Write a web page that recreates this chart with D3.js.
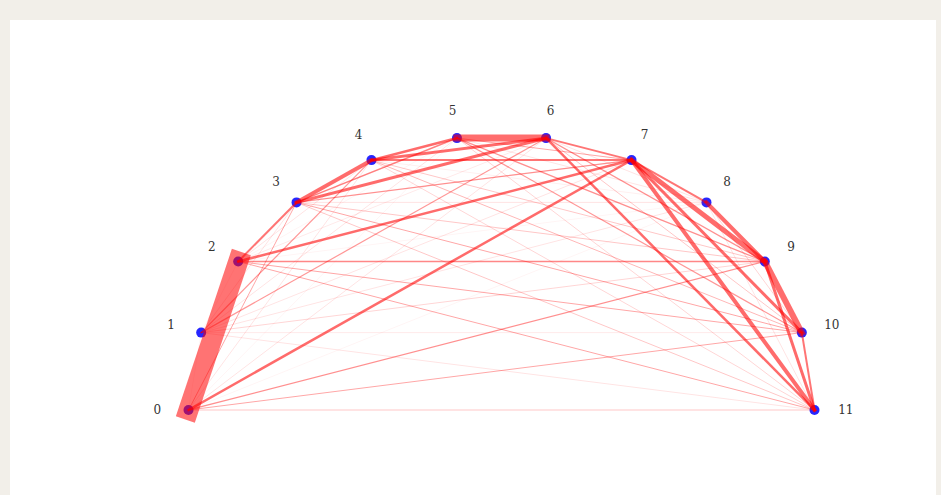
<!DOCTYPE html>
<html>
<head>
<meta charset="utf-8">
<script src="https://cdn.jsdelivr.net/npm/d3@7"></script>
<style>
  html, body { margin: 0; padding: 0; }
  body { width: 941px; height: 495px; background: #f2efe9; overflow: hidden; position: relative; }
  #panel { position: absolute; left: 10px; top: 20px; width: 926px; height: 475px; background: #fff; }
  svg { position: absolute; left: 0; top: 0; }
</style>
</head>
<body>
<div id="panel"></div>
<svg id="chart"></svg>
<script>
// node labels, in order round the half circle
const nodeLabels = ['0', '1', '2', '3', '4', '5', '6', '7', '8', '9', '10', '11'];

// edge list: source, target, weight
const edgeSource = [0, 0, 0, 0, 0, 0, 0, 0, 0, 0, 0,
                    1, 1, 1, 1, 1, 1, 1, 1, 1, 1,
                    2, 2, 2, 2, 2, 2, 2, 2, 2,
                    3, 3, 3, 3, 3, 3, 3, 3,
                    4, 4, 4, 4, 4, 4, 4,
                    5, 5, 5, 5, 5, 5,
                    6, 6, 6, 6, 6,
                    7, 7, 7, 7,
                    8, 8, 8,
                    9, 9,
                    10];
const edgeTarget = [1, 2, 3, 4, 5, 6, 7, 8, 9, 10, 11,
                    2, 3, 4, 5, 6, 7, 8, 9, 10, 11,
                    3, 4, 5, 6, 7, 8, 9, 10, 11,
                    4, 5, 6, 7, 8, 9, 10, 11,
                    5, 6, 7, 8, 9, 10, 11,
                    6, 7, 8, 9, 10, 11,
                    7, 8, 9, 10, 11,
                    8, 9, 10, 11,
                    9, 10, 11,
                    10, 11,
                    11];
const edgeWeight = [0.3, 20, 1, 0.6, 0.3, 0.6, 2.5, 0.3, 1.3, 1, 0.8,
                    0.3, 0.6, 1.2, 0.6, 1.2, 0.6, 0.6, 0.7, 0.5, 0.6,
                    2, 0.6, 0.3, 0.5, 2.5, 0.3, 1.4, 1, 1,
                    4, 1.5, 3, 1.3, 0.6, 0.8, 1, 0.8,
                    2.5, 3, 2, 0.4, 0.8, 0.9, 0.7,
                    7, 1, 0.6, 1.3, 1.2, 0.7,
                    2, 0.6, 1.3, 0.8, 2.5,
                    2, 5, 3, 4,
                    4, 0.7, 0.6,
                    6, 3,
                    2];

const width = 941, height = 495;

const svg = d3.select('#chart')
    .attr('width', width)
    .attr('height', height);

// unit half circle -> pixels (the picture is squashed: x and y radius differ)
const xScale = d3.scaleLinear().domain([-1, 1]).range([188.5, 814.5]);
const yScale = d3.scaleLinear().domain([0, 1]).range([410, 135.3]);
const angle = d3.scaleLinear().domain([0, nodeLabels.length - 1]).range([Math.PI, 0]);

const nodes = nodeLabels.map((label, i) => ({
    label: label,
    ux: Math.cos(angle(i)),
    uy: Math.sin(angle(i))
}));

const edges = edgeWeight.map((w, k) => ({
    s: nodes[edgeSource[k]],
    t: nodes[edgeTarget[k]],
    w: w
}));

const lineWidth = d3.scaleLinear().domain([0, 1, 20]).range([0.8, 1, 20]);
const lineAlpha = d3.scaleLinear()
    .domain([0.3, 0.6, 1, 1.5, 2.5, 20])
    .range([0.05, 0.12, 0.35, 0.5, 0.58, 0.55])
    .clamp(true);

// nodes first, the edges are laid over them
svg.append('g')
    .selectAll('circle')
    .data(nodes)
    .join('circle')
    .attr('cx', d => xScale(d.ux))
    .attr('cy', d => yScale(d.uy))
    .attr('r', 5)
    .attr('fill', '#0000ff')
    .attr('fill-opacity', 0.85);

svg.append('g')
    .selectAll('line')
    .data(edges)
    .join('line')
    .attr('x1', d => xScale(d.s.ux))
    .attr('y1', d => yScale(d.s.uy))
    .attr('x2', d => xScale(d.t.ux))
    .attr('y2', d => yScale(d.t.uy))
    .attr('stroke', '#ff0000')
    .attr('stroke-width', d => lineWidth(d.w))
    .attr('stroke-opacity', d => lineAlpha(d.w))
    .attr('stroke-linecap', 'square');

svg.append('g')
    .selectAll('text')
    .data(nodes)
    .join('text')
    .attr('x', d => xScale(1.1 * d.ux))
    .attr('y', d => yScale(1.1 * d.uy))
    .attr('text-anchor', 'middle')
    .attr('dominant-baseline', 'central')
    .attr('font-family', 'DejaVu Serif, serif')
    .attr('font-size', '12px')
    .attr('fill', '#333')
    .text(d => d.label);
</script>
</body>
</html>
